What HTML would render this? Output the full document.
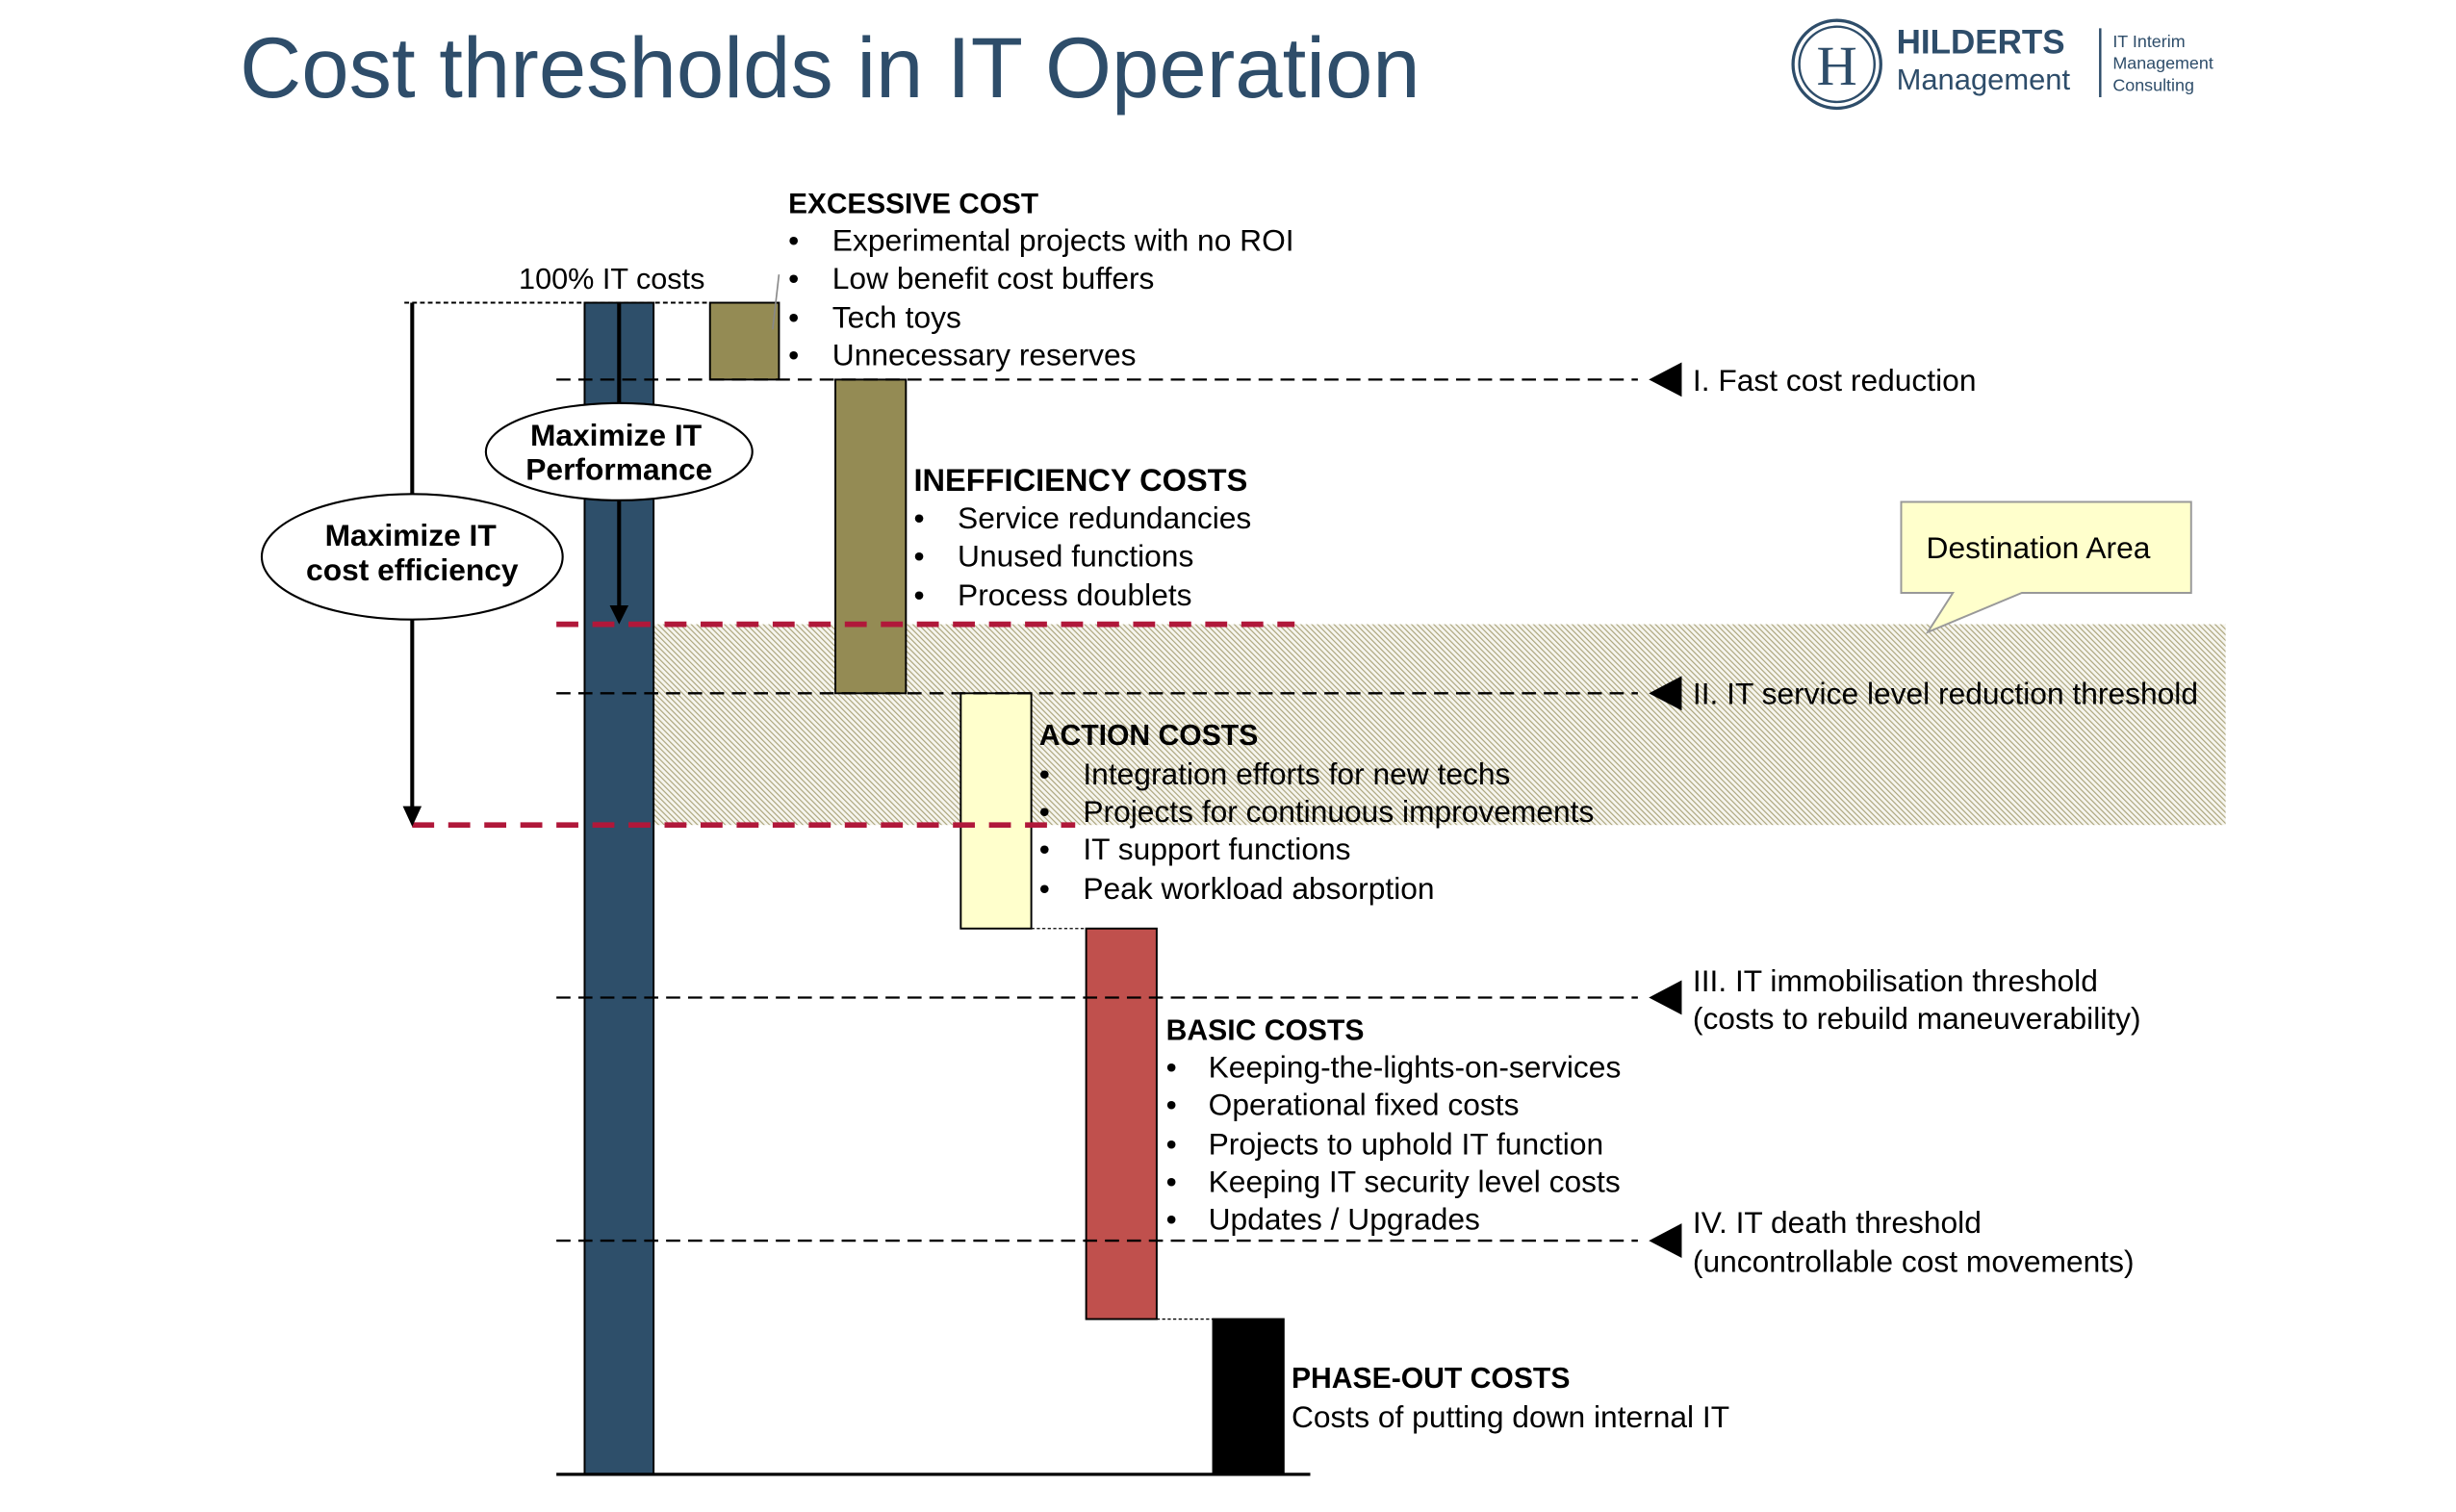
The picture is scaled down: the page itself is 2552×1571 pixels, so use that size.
<!DOCTYPE html>
<html><head><meta charset="utf-8"><style>
html,body{margin:0;padding:0;background:#fff;}
svg{display:block;}
text{font-family:"Liberation Sans",sans-serif;fill:#000;}
</style></head><body>
<svg width="2552" height="1571" viewBox="0 0 1567 964" preserveAspectRatio="none" xmlns="http://www.w3.org/2000/svg">
<defs>
<pattern id="h" width="2.5" height="2.5" patternUnits="userSpaceOnUse" patternTransform="rotate(-45)">
<rect width="2.5" height="2.5" fill="#f6f5ee"/>
<rect width="0.7" height="2.5" fill="#aaa37a"/>
</pattern>
</defs>
<rect width="1567" height="964" fill="#fff"/>
<text x="153" y="62" font-size="54.5" style="fill:#2e4d6a">Cost thresholds in IT Operation</text>
<circle cx="1172" cy="41" r="28" fill="none" stroke="#2e4d6a" stroke-width="2"/>
<circle cx="1172" cy="41" r="24" fill="none" stroke="#2e4d6a" stroke-width="1.5"/>
<text x="1172" y="54" font-size="36" text-anchor="middle" style="fill:#2e4d6a;font-family:'Liberation Serif',serif">H</text>
<text x="1210" y="34" font-size="21.5" font-weight="bold" style="fill:#2e4d6a">HILDERTS</text>
<text x="1210" y="57" font-size="19" style="fill:#2e4d6a">Management</text>
<line x1="1340" y1="18" x2="1340" y2="62" stroke="#2e4d6a" stroke-width="1.5"/>
<text x="1348" y="30" font-size="11" style="fill:#2e4d6a">IT Interim</text>
<text x="1348" y="44" font-size="11" style="fill:#2e4d6a">Management</text>
<text x="1348" y="58" font-size="11" style="fill:#2e4d6a">Consulting</text>

<rect x="417" y="398" width="1003" height="128" fill="url(#h)"/>

<line x1="258" y1="193" x2="453" y2="193" stroke="#000" stroke-width="1.2" stroke-dasharray="3,2"/>
<line x1="658" y1="592" x2="693" y2="592" stroke="#000" stroke-width="0.8" stroke-dasharray="2,1.5"/>
<line x1="738" y1="841" x2="774" y2="841" stroke="#000" stroke-width="0.8" stroke-dasharray="2,1.5"/>

<rect x="373" y="193" width="44" height="747" fill="#2e4f6a" stroke="#000" stroke-width="1.2"/>
<rect x="453" y="193" width="44" height="49" fill="#948b54" stroke="#000" stroke-width="1.2"/>
<rect x="533" y="242" width="45" height="200" fill="#948b54" stroke="#000" stroke-width="1.2"/>
<rect x="613" y="442" width="45" height="150" fill="#ffffcc" stroke="#000" stroke-width="1.2"/>
<rect x="693" y="592" width="45" height="249" fill="#c0504d" stroke="#000" stroke-width="1.2"/>
<rect x="774" y="841" width="45" height="99" fill="#000" stroke="#000" stroke-width="1.2"/>
<line x1="355" y1="940" x2="836" y2="940" stroke="#000" stroke-width="2"/>
<line x1="497" y1="175" x2="493" y2="210" stroke="#888" stroke-width="1"/>

<g stroke="#000" stroke-width="1.4" stroke-dasharray="9,5">
<line x1="355" y1="242" x2="1045" y2="242"/>
<line x1="355" y1="442" x2="1045" y2="442"/>
<line x1="355" y1="636" x2="1045" y2="636"/>
<line x1="355" y1="791" x2="1045" y2="791"/>
</g>
<g fill="#000">
<polygon points="1052,242 1073,231 1073,253"/>
<polygon points="1052,442 1073,431 1073,453"/>
<polygon points="1052,636 1073,625 1073,647"/>
<polygon points="1052,791 1073,780 1073,802"/>
</g>

<line x1="355" y1="398" x2="826" y2="398" stroke="#b0183a" stroke-width="3.5" stroke-dasharray="14,9"/>
<line x1="263" y1="526" x2="686" y2="526" stroke="#b0183a" stroke-width="3.5" stroke-dasharray="14,9"/>

<line x1="263" y1="193" x2="263" y2="516" stroke="#000" stroke-width="2.5"/>
<polygon points="257,514 269,514 263,527" fill="#000"/>
<line x1="395" y1="193" x2="395" y2="388" stroke="#000" stroke-width="2.5"/>
<polygon points="389,386 401,386 395,398" fill="#000"/>
<ellipse cx="263" cy="355" rx="96" ry="40" fill="#fff" stroke="#000" stroke-width="1.3"/>
<text x="262" y="348" font-size="19.5" font-weight="bold" text-anchor="middle">Maximize IT</text>
<text x="263" y="370" font-size="19.5" font-weight="bold" text-anchor="middle">cost efficiency</text>
<ellipse cx="395" cy="288" rx="85" ry="31" fill="#fff" stroke="#000" stroke-width="1.3"/>
<text x="393" y="284" font-size="19.5" font-weight="bold" text-anchor="middle">Maximize IT</text>
<text x="395" y="306" font-size="19.5" font-weight="bold" text-anchor="middle">Performance</text>

<path d="M1213,320 L1398,320 L1398,378 L1290,378 L1230,403 L1246,378 L1213,378 Z" fill="#ffffcc" stroke="#999" stroke-width="1.2"/>
<text x="1229" y="356" font-size="19.5">Destination Area</text>

<text x="331" y="184" font-size="18.8">100% IT costs</text>

<g font-size="19.5">
<text x="503" y="136" font-weight="bold" font-size="18.3">EXCESSIVE COST</text>
<text x="503" y="160">•</text><text x="531" y="160">Experimental projects with no ROI</text>
<text x="503" y="184">•</text><text x="531" y="184">Low benefit cost buffers</text>
<text x="503" y="209">•</text><text x="531" y="209">Tech toys</text>
<text x="503" y="233">•</text><text x="531" y="233">Unnecessary reserves</text>

<text x="583" y="313" font-weight="bold" font-size="20">INEFFICIENCY COSTS</text>
<text x="583" y="337">•</text><text x="611" y="337">Service redundancies</text>
<text x="583" y="361">•</text><text x="611" y="361">Unused functions</text>
<text x="583" y="386">•</text><text x="611" y="386">Process doublets</text>

<text x="663" y="475" font-weight="bold" font-size="18.5">ACTION COSTS</text>
<text x="663" y="500">•</text><text x="691" y="500">Integration efforts for new techs</text>
<text x="663" y="524">•</text><text x="691" y="524">Projects for continuous improvements</text>
<text x="663" y="548">•</text><text x="691" y="548">IT support functions</text>
<text x="663" y="573">•</text><text x="691" y="573">Peak workload absorption</text>

<text x="744" y="663" font-weight="bold" font-size="18.5">BASIC COSTS</text>
<text x="744" y="687">•</text><text x="771" y="687">Keeping-the-lights-on-services</text>
<text x="744" y="711">•</text><text x="771" y="711">Operational fixed costs</text>
<text x="744" y="736">•</text><text x="771" y="736">Projects to uphold IT function</text>
<text x="744" y="760">•</text><text x="771" y="760">Keeping IT security level costs</text>
<text x="744" y="784">•</text><text x="771" y="784">Updates / Upgrades</text>

<text x="824" y="885" font-weight="bold" font-size="18.5">PHASE-OUT COSTS</text>
<text x="824" y="910">Costs of putting down internal IT</text>

<text x="1080" y="249">I. Fast cost reduction</text>
<text x="1080" y="449">II. IT service level reduction threshold</text>
<text x="1080" y="632">III. IT immobilisation threshold</text>
<text x="1080" y="656">(costs to rebuild maneuverability)</text>
<text x="1080" y="786">IV. IT death threshold</text>
<text x="1080" y="811">(uncontrollable cost movements)</text>
</g>
</svg>
</body></html>
